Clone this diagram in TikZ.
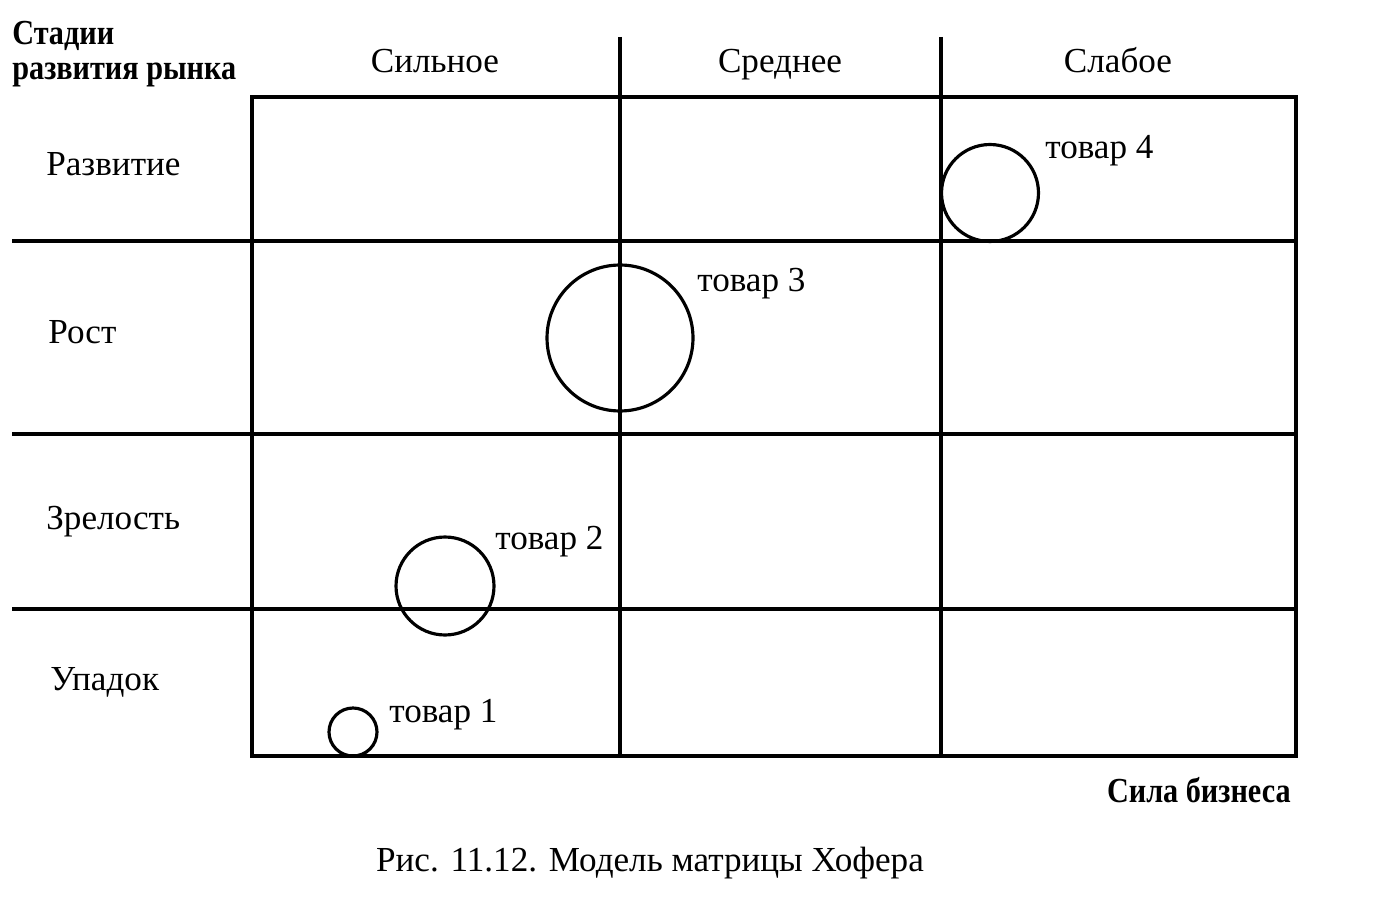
\documentclass[tikz,border=0pt]{standalone}
\usepackage{fontspec}
\setmainfont{Liberation Serif}
\newfontfamily\headfont{Liberation Serif}[FakeStretch=0.86]
\usetikzlibrary{positioning}

\begin{document}
\begin{tikzpicture}[x=0.02cm,y=-0.02cm]
\tikzset{grid line/.style={line width=1.9pt}}
\tikzset{tovar/.style={circle,draw,line width=1.8pt,inner sep=0pt}}
\tikzset{every node/.append style={font=\fontsize{20}{24}\selectfont}}
\tikzset{head/.style={font=\headfont\bfseries\fontsize{20}{22}\selectfont,align=left}}

\useasboundingbox (0,0) rectangle (1389,905);

% grid
\draw[grid line] (252,97) rectangle (1296,756);
\draw[grid line] (620,37) -- (620,756);
\draw[grid line] (941,37) -- (941,756);
\draw[grid line] (12,241) -- (1296,241);
\draw[grid line] (12,434) -- (1296,434);
\draw[grid line] (12,609) -- (1296,609);

% headings
\node[head,anchor=north west,inner sep=0pt] (stadii) at (12,21) {Стадии\\[-2pt]развития рынка};
\node[anchor=base] (strong) at (435,73) {Сильное};
\node[anchor=base] (middle) at (780,73) {Среднее};
\node[anchor=base] (weak) at (1118,73) {Слабое};

\node[anchor=base west,inner sep=0pt] (razv) at (46,176) {Развитие};
\node[anchor=base west,inner sep=0pt] (rost) at (48,344) {Рост};
\node[anchor=base west,inner sep=0pt] (zrel) at (46,529) {Зрелость};
\node[anchor=base west,inner sep=0pt] (upad) at (50,690) {Упадок};

% products
\node[tovar,minimum size=1.94cm] (t4) at (990,193) {};
\node[tovar,minimum size=2.92cm] (t3) at (620,338) {};
\node[tovar,minimum size=1.96cm] (t2) at (445,586) {};
\node[tovar,minimum size=0.96cm] (t1) at (353,732) {};

\node[anchor=base west,inner sep=0pt] (l4) at (1045,159) {товар 4};
\node[anchor=base west,inner sep=0pt] (l3) at (697,292) {товар 3};
\node[anchor=base west,inner sep=0pt] (l2) at (495,549) {товар 2};
\node[anchor=base west,inner sep=0pt] (l1) at (389,722) {товар 1};

\node[head,anchor=base east,inner sep=0pt] (sila) at (1291,802) {Сила бизнеса};
\node[anchor=base] (caption) at (650,871) {Рис. 11.12. Модель матрицы Хофера};

\end{tikzpicture}
\end{document}
